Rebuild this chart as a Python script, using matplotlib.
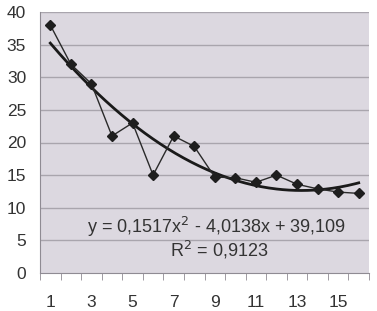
import numpy as np
import matplotlib.pyplot as plt

# data
categories = np.arange(1, 17)
values = [38.0, 32.0, 29.0, 21.0, 23.0, 15.0, 21.0, 19.4,
          14.7, 14.6, 13.9, 15.0, 13.6, 12.9, 12.4, 12.2]
x_labels = ['1', '', '3', '', '5', '', '7', '', '9', '', '11', '', '13', '', '15', '']
eq_text = 'y = 0,1517x$^2$ - 4,0138x + 39,109'
r2_text = 'R$^2$ = 0,9123'

plt.rcParams['font.family'] = ['Liberation Sans', 'DejaVu Sans']

W, H = 377, 311
fig = plt.figure(figsize=(W/100, H/100), dpi=100)
ax = fig.add_axes([40/W, 1 - 273/H, 329/W, 261/H])
ax.set_facecolor('#dcd8e0')
fig.patch.set_facecolor('white')

ax.set_xlim(0.5, 16.5)
ax.set_ylim(0, 40)

# grid
for yv in range(5, 41, 5):
    ax.axhline(yv, color='#a9a5ad', lw=1.0, zorder=1)

# data series
ax.plot(categories, values, color='#2a2a2a', lw=1.0, marker='D', ms=5,
        mfc='#1e1e1e', mec='#1e1e1e', zorder=3)

# 2nd order polynomial trend line
coef = np.polyfit(categories, values, 2)
xs = np.linspace(1, 16, 200)
ax.plot(xs, np.polyval(coef, xs), color='#1a1a1a', lw=2.0, zorder=2)

fig.text(217/W, 1 - 227/H, eq_text, fontsize=13, color='#333333',
         ha='center', va='center')
fig.text(219/W, 1 - 250/H, r2_text, fontsize=13, color='#333333',
         ha='center', va='center')

# axes styling
for s in ['top', 'right']:
    ax.spines[s].set_visible(False)
ax.spines['left'].set_color('#8f8b93')
ax.spines['bottom'].set_color('#8f8b93')

ax.set_yticks(range(0, 41, 5))
ax.tick_params(axis='y', length=0, pad=10, labelsize=12.5, labelcolor='#333333')
ax.set_xticks(categories)
ax.set_xticklabels(x_labels)
ax.set_xticks(np.arange(0.5, 17, 1), minor=True)
ax.tick_params(axis='x', which='major', length=0, pad=16, labelsize=12.5,
               labelcolor='#333333')
ax.tick_params(axis='x', which='minor', length=5, color='#8f8b93')

fig.savefig('out.png', dpi=100)
